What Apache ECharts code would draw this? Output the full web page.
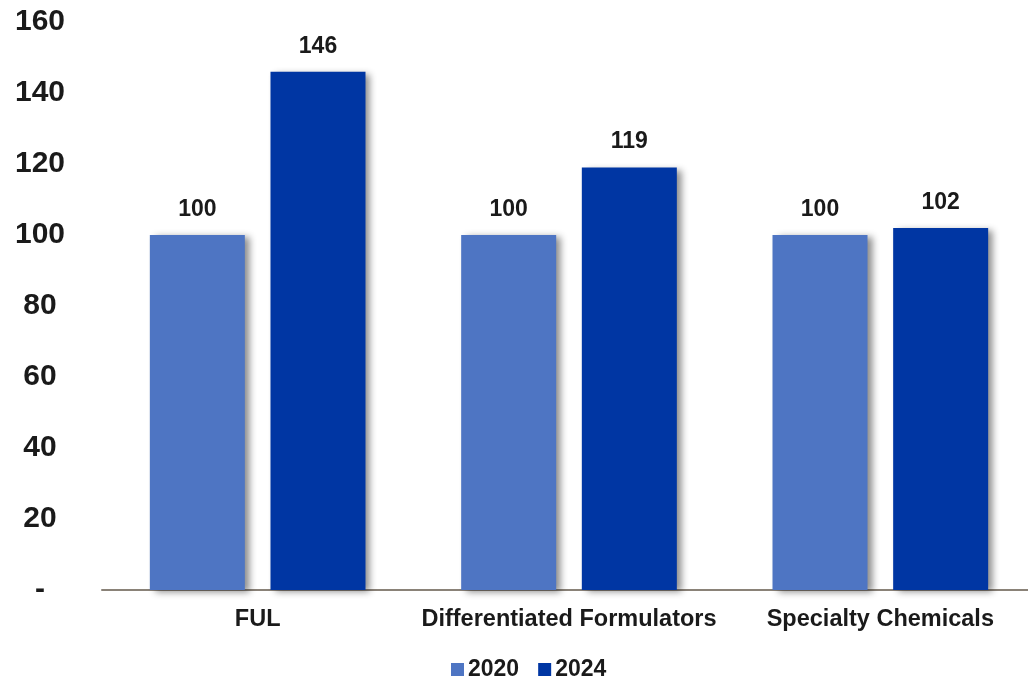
<!DOCTYPE html>
<html>
<head>
<meta charset="utf-8">
<script src="https://cdn.jsdelivr.net/npm/echarts@6/dist/echarts.min.js"></script>
<style>
  html, body { margin: 0; padding: 0; background: #fff; overflow: hidden; }
  /* canvas is a little wider than the window so the plot runs to the edge */
  #chart { width: 1036px; height: 680px; }
</style>
</head>
<body>
<div id="chart"></div>
<script>
// Growth index by segment (2020 = 100)
const categories = ['FUL', 'Differentiated Formulators', 'Specialty Chemicals'];
const values2020 = [100, 100, 100];
const values2024 = [146, 119, 102];
const seriesNames = ['2020', '2024'];

const FONT = 'Liberation Sans, Arial, sans-serif';
const TEXT = '#1a1a1a';

const barShadow = {
  shadowBlur: 7,
  shadowOffsetX: 5,
  shadowOffsetY: 2,
  shadowColor: 'rgba(0,0,0,0.45)'
};

const valueLabel = {
  show: true,
  position: 'top',
  distance: 14,
  color: TEXT,
  fontFamily: FONT,
  fontWeight: 'bold',
  fontSize: 23
};

const chart = echarts.init(document.getElementById('chart'), null, { renderer: 'canvas' });
chart.setOption({
  animation: false,
  backgroundColor: '#ffffff',
  grid: { left: 102, right: 0, top: 22, bottom: 90, containLabel: false },
  legend: {
    data: seriesNames,
    top: 653,
    left: 446,
    icon: 'rect',
    itemWidth: 13,
    itemHeight: 13,
    itemGap: 19,
    textStyle: { color: TEXT, fontFamily: FONT, fontWeight: 'bold', fontSize: 23, padding: [0, 0, 0, -1] }
  },
  xAxis: {
    type: 'category',
    data: categories,
    axisLine: { show: true, lineStyle: { color: '#8a8278', width: 2 } },
    axisTick: { show: false },
    axisLabel: { color: TEXT, fontFamily: FONT, fontWeight: 'bold', fontSize: 23.5, margin: 18, interval: 0 }
  },
  yAxis: {
    type: 'value',
    min: 0,
    max: 160,
    interval: 20,
    splitLine: { show: false },
    axisLine: { show: false },
    axisTick: { show: false },
    axisLabel: {
      color: TEXT,
      fontFamily: FONT,
      fontWeight: 'bold',
      fontSize: 30,
      align: 'center',
      margin: 62,
      formatter: v => (v === 0 ? '-' : String(v))
    }
  },
  series: [
    {
      name: seriesNames[0],
      type: 'bar',
      data: values2020,
      barWidth: 95,
      barGap: '27%',
      itemStyle: Object.assign({ color: '#4E75C3' }, barShadow),
      label: valueLabel
    },
    {
      name: seriesNames[1],
      type: 'bar',
      data: values2024,
      barWidth: 95,
      barGap: '27%',
      itemStyle: Object.assign({ color: '#0036A3' }, barShadow),
      label: valueLabel
    }
  ]
});
</script>
</body>
</html>
